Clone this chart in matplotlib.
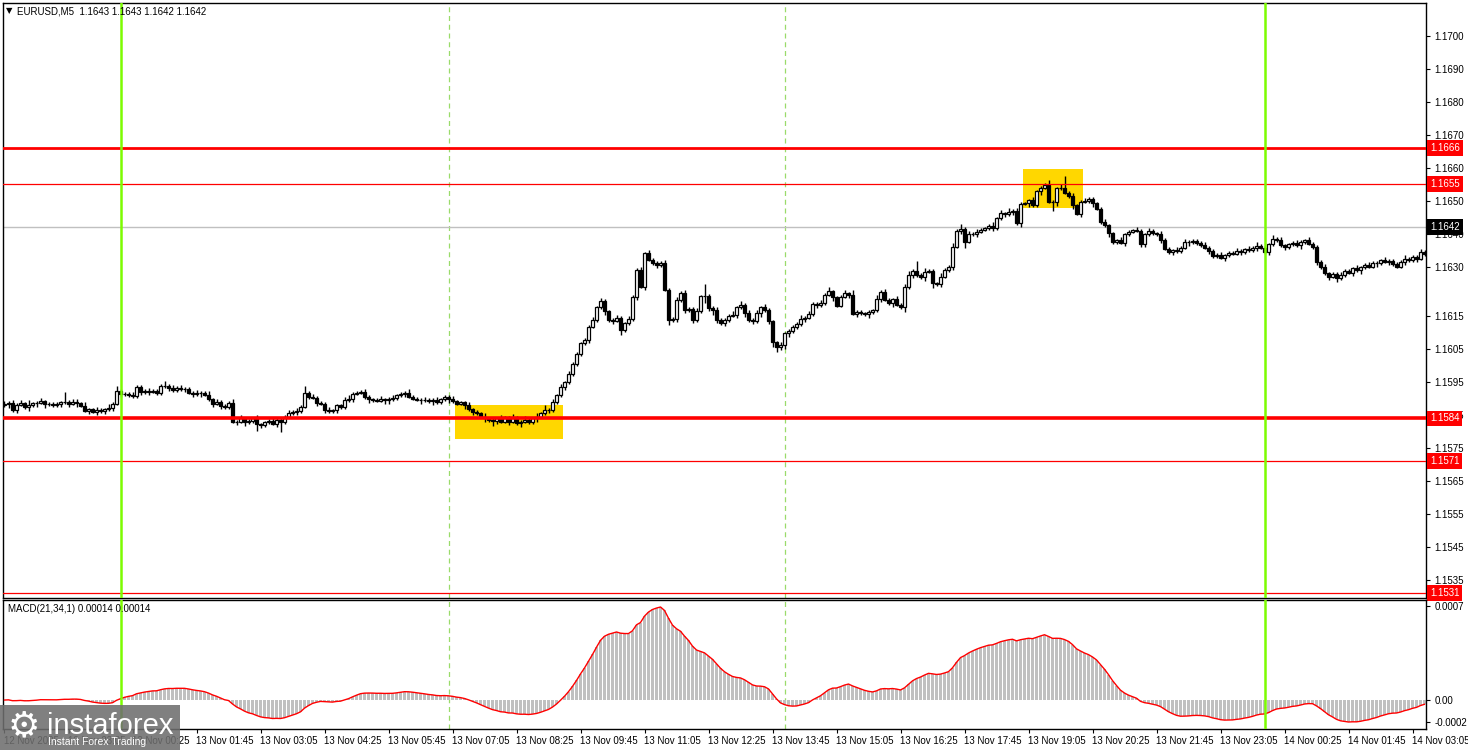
import numpy as np
import matplotlib
matplotlib.use("Agg")
import matplotlib.pyplot as plt
from matplotlib.patches import Rectangle
import matplotlib.transforms as mtransforms

plt.rcParams['font.family'] = ['Liberation Sans', 'DejaVu Sans']

# ---------------- data (prices in pips above 1.1500) ----------------
time_labels = ["12 Nov 2025", "12 Nov 23:05", "13 Nov 00:25", "13 Nov 01:45", "13 Nov 03:05",
               "13 Nov 04:25", "13 Nov 05:45", "13 Nov 07:05", "13 Nov 08:25", "13 Nov 09:45",
               "13 Nov 11:05", "13 Nov 12:25", "13 Nov 13:45", "13 Nov 15:05", "13 Nov 16:25",
               "13 Nov 17:45", "13 Nov 19:05", "13 Nov 20:25", "13 Nov 21:45", "13 Nov 23:05",
               "14 Nov 00:25", "14 Nov 01:45", "14 Nov 03:05"]
label_step = 16  # candles between time labels

open_first = 88.0
close_a = [88.3, 88.7, 86.6, 88.2, 88.6, 87.4, 88.1, 88.6, 88.8, 89.2, 88.3, 88.5, 88.0, 88.4, 88.9,
           89.0, 88.5, 88.9, 88.6, 87.9, 86.4, 86.8, 86.0, 86.6, 86.3, 86.8, 87.3, 88.5, 92.3]
close_b = [91.5, 91.4, 91.0, 90.8, 93.5, 92.0, 92.3, 92.1, 92.4, 91.6, 93.8, 93.8, 93.2, 92.5, 93.2,
           92.9, 93.0, 91.8, 91.4, 91.6, 91.8, 91.2, 89.8, 88.5, 89.0, 87.8, 87.4, 88.8, 83.0, 83.0,
           84.0, 82.8, 83.2, 84.0, 82.2, 82.0, 82.8, 83.3, 82.4, 83.6, 82.8, 84.5, 85.6, 86.0, 86.2,
           87.6, 91.8]
close_c = [90.5, 90.3, 88.8, 88.5, 86.5, 86.2, 86.5, 88.0, 87.5, 89.5, 90.0, 91.5, 91.8, 92.0, 90.5,
           89.8, 89.6, 89.4, 89.8, 89.5, 89.9, 90.2, 91.0, 91.5, 91.8, 90.6, 90.0, 89.7, 89.5, 89.6,
           89.2, 89.6, 89.0, 89.8, 90.5, 89.8, 89.2, 88.5, 88.9, 88.0, 86.8, 86.0, 85.5, 84.5, 84.0,
           83.5, 83.2, 84.0, 83.0, 84.3, 83.0, 84.2, 82.5, 83.0, 83.6, 82.8, 84.0, 84.5, 85.6, 86.5,
           86.6, 89.0, 91.0, 93.5, 95.0, 97.5]
close_d = [100.5, 103.5, 106.8, 107.8, 111.8, 113.9, 117.7, 119.6, 116.5, 113.9, 113.6, 114.5, 110.8,
           112.9, 114.2, 120.9, 129.0, 124.0, 134.1, 132.1, 131.1, 130.5, 131.1, 123.0, 113.9, 114.2,
           119.9, 122.0, 116.9, 117.3, 113.9, 116.5, 121.0, 121.2, 117.5, 116.9, 113.9, 112.9, 113.9,
           115.2, 115.5, 117.7, 118.5, 115.9, 113.9, 113.5, 115.9, 117.7, 116.9, 113.5, 107.1, 105.8,
           106.2, 109.8]
close_e = [110.5, 111.7, 112.6, 114.3, 114.6, 115.6, 118.8, 118.4, 118.9, 121.5, 122.5, 120.7, 118.2,
           120.9, 121.9, 121.4, 115.8, 116.3, 115.9, 115.6, 116.3, 116.8, 120.3, 122.4, 120.0, 118.9,
           120.1, 118.5, 117.8, 123.9, 127.6, 128.8, 127.5, 126.8, 128.5, 128.8, 125.0, 124.8, 127.0,
           129.0, 130.0, 136.1, 140.9, 141.5, 137.6, 139.9, 140.0, 140.6, 141.3, 141.7, 142.5, 141.7,
           144.7, 146.2, 146.0, 146.7, 146.9, 143.2, 149.1]
close_f = [149.2, 150.2, 148.6, 152.9, 154.0, 154.8, 149.7, 149.5, 153.8, 154.0, 152.5, 151.4, 148.6,
           146.1, 149.7, 149.9, 150.7, 149.2, 147.6, 143.6, 142.6, 140.1, 137.5, 138.0, 137.3, 139.8,
           140.6, 141.1, 140.9, 137.0, 139.8, 140.9, 140.1, 139.8, 138.2, 135.5, 134.5, 135.0, 134.8,
           135.8, 137.4, 137.5, 137.8, 137.2]
close_g = [136.5, 135.8, 134.8, 133.2, 133.6, 132.8, 133.5, 134.2, 134.0, 134.8, 134.5, 135.3, 135.0,
           135.8, 136.4, 135.8, 134.5, 136.8, 138.5, 138.0, 136.5, 136.0, 136.8, 137.2, 136.5, 137.5,
           138.0, 137.0, 136.0, 131.5, 129.8, 128.0, 127.0, 127.8, 126.5, 127.5, 128.8, 128.2, 129.5,
           128.9, 129.8, 130.5, 130.0, 131.2, 131.0, 132.0, 131.5, 131.8, 130.8, 130.0, 131.5, 132.5,
           132.0, 133.0, 132.5, 134.5, 133.8]

# wick lengths beyond the body, in half-pips, one digit per candle
upper_wick = ("2121213112" "1111161221" "211211213"
              "1112111211" "1312121112" "1121211121" "2111211121" "1121214"
              "1211121112" "2111211121" "1211121112" "1121112111" "2111211121" "1211211213" "121212"
              "1111121211" "1211211212" "1112112121" "1217112111" "2121212121" "1121"
              "1112121121" "3111213111" "1121211212" "2161211121" "1213121211" "121212121"
              "1121113112" "7121121111" "2111211121" "1211211121" "2111"
              "1211121112" "1121211121" "2111211211" "1211121112" "1121112111" "1211121")
lower_wick = ("1212112121" "2111212121" "121212121"
              "2111121211" "1121112121" "2112121112" "1211421112" "6111211"
              "1121211211" "1211121112" "2111211121" "1211121112" "1211213211" "2112111211" "211121"
              "1111211121" "2131112121" "1211312121" "2114232121" "1212121212" "3322"
              "2111211211" "1211121211" "2112112113" "1211213121" "1212411211" "121121212"
              "1211211521" "1121211211" "1211121112" "2111211211" "1211"
              "1121112111" "2111211211" "1211121112" "1121211121" "2111211211" "1211211")

levels_red_thick = [1.1666, 1.1584]
levels_red_thin = [1.1655, 1.1571, 1.1531]
level_bid = 1.1642
y_ticks = [1.1700, 1.1690, 1.1680, 1.1670, 1.1660, 1.1650, 1.1640, 1.1630,
           1.1615, 1.1605, 1.1595, 1.1585, 1.1575, 1.1565, 1.1555, 1.1545, 1.1535]
green_lines = [29, 315]
dashed_lines = [111, 195]
zones = [(112.6, 139.6, 1.15778, 1.15881), (254.6, 269.6, 1.16478, 1.16597)]
macd_fast, macd_slow = 21, 34
macd_labels = ['0.0007', '0.00', '-0.0002']

# ---------------- build series ----------------
close_p = np.array(close_a + close_b + close_c + close_d + close_e + close_f + close_g)
close = 1.15 + close_p / 10000.0
n = len(close)
open_ = np.r_[1.15 + open_first / 10000.0, close[:-1]]
uw = np.array([int(ch) for ch in upper_wick]) * 0.5e-4
lw = np.array([int(ch) for ch in lower_wick]) * 0.5e-4
assert len(uw) == n and len(lw) == n, (len(uw), len(lw), n)
body_lo = np.minimum(open_, close)
body_hi = np.maximum(open_, close)
high = body_hi + uw
low = body_lo - lw
x = np.arange(n)
bull = close >= open_

def ema(v, p):
    a = 2.0 / (p + 1)
    out = np.empty_like(v)
    out[0] = v[0]
    for k in range(1, len(v)):
        out[k] = a * v[k] + (1 - a) * out[k - 1]
    return out

macd = ema(close, macd_fast) - ema(close, macd_slow)

# ---------------- figure ----------------
W, H = 1468, 750
fig = plt.figure(figsize=(W / 100, H / 100), dpi=100)
fig.patch.set_facecolor('white')

def rect(x0, y0, x1, y1):
    return [x0 / W, 1 - y1 / H, (x1 - x0) / W, (y1 - y0) / H]

ax = fig.add_axes(rect(3, 3, 1426, 598))
ax2 = fig.add_axes(rect(3, 600, 1426, 729))

xl = (-0.375, 355.375)
ax.set_xlim(*xl)
ax2.set_xlim(*xl)
ax.set_ylim(1.152954, 1.17100)

for a in (ax, ax2):
    for s in a.spines.values():
        s.set_linewidth(1.0)
        s.set_color('black')

# zones
for (x0, x1, y0, y1) in zones:
    ax.add_patch(Rectangle((x0, y0), x1 - x0, y1 - y0, facecolor='#FFD700', edgecolor='none', zorder=1))

# vertical separators
for g in green_lines:
    for a in (ax, ax2):
        a.axvline(g, color='#7CFC00', lw=1.8, zorder=6)
for d in dashed_lines:
    for a in (ax, ax2):
        a.axvline(d, color='#9ADB6A', lw=0.9, ls=(0, (4, 3)), zorder=0.5)

# candles
ax.vlines(x, low, high, color='black', lw=1.0, zorder=3)
hgt = np.maximum(body_hi - body_lo, 0.02e-4)
ax.bar(x, hgt, bottom=body_lo, width=0.72, color=np.where(bull, 'white', 'black'),
       edgecolor='black', linewidth=0.9, zorder=4)

# horizontal levels
for lv in levels_red_thick:
    ax.axhline(lv, color='#FF0000', lw=2.0 if lv > 1.16 else 2.6, zorder=5)
for lv in levels_red_thin:
    ax.axhline(lv, color='#FF0000', lw=0.9, zorder=5)
ax.axhline(level_bid, color='#C0C0C0', lw=1.0, zorder=2)

# right axis ticks
ax.yaxis.tick_right()
ax.set_yticks(y_ticks)
ax.set_yticklabels([f"{v:.4f}" for v in y_ticks])
ax.tick_params(axis='y', direction='out', length=3, width=0.8, labelsize=7, pad=3, colors='black')
ax.tick_params(axis='x', bottom=False, labelbottom=False)

trans = mtransforms.blended_transform_factory(ax.transAxes, ax.transData)
for lv in levels_red_thick + levels_red_thin:
    ax.text(1.0 + 4 / 1423, lv, f"{lv:.4f}", transform=trans, ha='left', va='center', fontsize=7,
            color='white', zorder=10, clip_on=False,
            bbox=dict(boxstyle='square,pad=0.3', fc='#FF0000', ec='none'))
ax.text(1.0 + 4 / 1423, level_bid, f"{level_bid:.4f}", transform=trans, ha='left', va='center',
        fontsize=7, color='white', zorder=10, clip_on=False,
        bbox=dict(boxstyle='square,pad=0.3', fc='black', ec='none'))

# MACD (window scaled from its visible minimum to its visible maximum, 7 px margins)
ax2.bar(x, macd, width=0.55, color='#C0C0C0', zorder=2)
ax2.plot(x, macd, color='#FF0000', lw=1.0, zorder=3)
mx, mn = macd.max(), macd.min()
px = (mx - mn) / 115.0
ax2.set_ylim(mn - 7 * px, mx + 7 * px)
ax2.yaxis.tick_right()
ax2.set_yticks([mx + 1 * px, 0.0, mn])
ax2.set_yticklabels(macd_labels)
ax2.tick_params(axis='y', direction='out', length=3, width=0.8, labelsize=7, pad=3)

tick_pos = [k * label_step for k in range(len(time_labels))]
ax2.set_xticks(tick_pos)
ax2.set_xticklabels(time_labels, ha='left')
ax2.tick_params(axis='x', direction='out', length=3, width=0.8, labelsize=7, pad=2)

# headers
fig.text(6 / W, 1 - 11 / H, "▼", fontsize=6, va='center', ha='left', color='black',
         family='DejaVu Sans')
fig.text(17 / W, 1 - 11 / H, "EURUSD,M5  1.1643 1.1643 1.1642 1.1642", fontsize=7, va='center',
         ha='left', color='black')
fig.text(8 / W, 1 - 609 / H, "MACD(21,34,1) 0.00014 0.00014", fontsize=7, va='center', ha='left',
         color='black')

# watermark
fig.patches.append(Rectangle((0, 0), 180 / W, 45 / H, transform=fig.transFigure,
                             facecolor='#6E6E6E', alpha=0.88, edgecolor='none', zorder=20))
fig.text(24 / W, 1 - 726 / H, "⚙", fontsize=26, color='white', ha='center', va='center',
         family='DejaVu Sans', zorder=21)
fig.text(47 / W, 1 - 726 / H, "instaforex", fontsize=21, color='white', ha='left', va='center',
         zorder=21)
fig.text(48 / W, 1 - 742 / H, "Instant Forex Trading", fontsize=7.5, color='white', ha='left',
         va='center', zorder=21)

fig.savefig("out.png", dpi=100, facecolor='white')
